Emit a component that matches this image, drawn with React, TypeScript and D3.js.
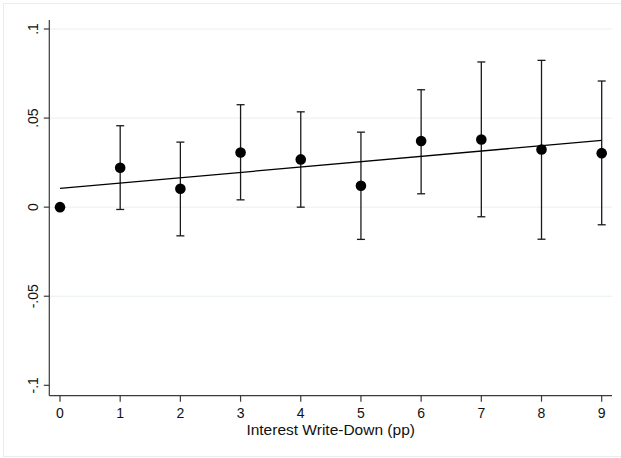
import React from "react";
import * as d3 from "d3";

const categories = [0, 1, 2, 3, 4, 5, 6, 7, 8, 9];
const estimates = [0, 0.0221, 0.0103, 0.0307, 0.0268, 0.012, 0.0371, 0.038, 0.0324, 0.0303];
const ciLower = [0, -0.0013, -0.0161, 0.0041, 0.0, -0.0181, 0.0075, -0.0054, -0.018, -0.0099];
const ciUpper = [0, 0.0457, 0.0365, 0.0575, 0.0535, 0.0421, 0.0659, 0.0815, 0.0824, 0.0708];
const fitLine = [
  { x: 0, y: 0.0105 },
  { x: 9, y: 0.0375 },
];
const yTicks = [-0.1, -0.05, 0, 0.05, 0.1];
const yTickLabels = ["-.1", "-.05", "0", ".05", ".1"];
const gridTicks = [-0.05, 0, 0.05, 0.1];
const xLabel = "Interest Write-Down (pp)";

export default function App() {
  const W = 621;
  const H = 458;
  const left = 49.3;
  const right = 612;
  const top = 20;
  const bottom = 395.7;

  const x = d3.scaleLinear().domain([0, 9]).range([60, 601.7]);
  const y = d3.scaleLinear().domain([-0.1, 0.1]).range([385.3, 29]);
  const line = d3
    .line<{ x: number; y: number }>()
    .x((d) => x(d.x))
    .y((d) => y(d.y));

  const font = "'Liberation Sans', Arial, Helvetica, sans-serif";
  const ink = "#1a1a1a";

  return (
    <svg
      width={W}
      height={H}
      style={{ position: "absolute", left: 0, top: 0, background: "#fff" }}
      fontFamily={font}
    >
      <rect x={0} y={0} width={W} height={H} fill="#fff" />
      <rect x={3.5} y={3.5} width={W + 4} height={453} fill="none" stroke="#e6eeef" strokeWidth={1.2} />
      {gridTicks.map((t) => (
        <line key={"g" + t} x1={left} x2={right} y1={y(t)} y2={y(t)} stroke="#e8eff1" strokeWidth={1} />
      ))}
      {/* axes */}
      <line x1={left} x2={left} y1={top} y2={bottom} stroke="#3a3a3a" strokeWidth={1.2} />
      <line x1={left} x2={right} y1={bottom} y2={bottom} stroke="#3a3a3a" strokeWidth={1.2} />
      {yTicks.map((t, i) => (
        <g key={"yt" + t}>
          <line x1={left - 5.5} x2={left} y1={y(t)} y2={y(t)} stroke="#3a3a3a" strokeWidth={1.2} />
          <text
            transform={`translate(37.5,${y(t)}) rotate(-90)`}
            textAnchor="middle"
            fontSize={14}
            fill="#111"
          >
            {yTickLabels[i]}
          </text>
        </g>
      ))}
      {categories.map((c) => (
        <g key={"xt" + c}>
          <line x1={x(c)} x2={x(c)} y1={bottom} y2={bottom + 6} stroke="#3a3a3a" strokeWidth={1.2} />
          <text x={x(c)} y={417.5} textAnchor="middle" fontSize={14} fill="#111">
            {c}
          </text>
        </g>
      ))}
      <text x={(left + right) / 2} y={435} textAnchor="middle" fontSize={15.5} fill="#111">
        {xLabel}
      </text>
      {/* error bars */}
      {categories.map((c, i) =>
        i === 0 ? null : (
          <g key={"eb" + c} stroke={ink} strokeWidth={1.3}>
            <line x1={x(c)} x2={x(c)} y1={y(ciLower[i])} y2={y(ciUpper[i])} />
            <line x1={x(c) - 4} x2={x(c) + 4} y1={y(ciLower[i])} y2={y(ciLower[i])} />
            <line x1={x(c) - 4} x2={x(c) + 4} y1={y(ciUpper[i])} y2={y(ciUpper[i])} />
          </g>
        )
      )}
      {/* fit line */}
      <path d={line(fitLine) || ""} fill="none" stroke="#000" strokeWidth={1.3} />
      {/* points */}
      {categories.map((c, i) => (
        <circle key={"p" + c} cx={x(c)} cy={y(estimates[i])} r={5.3} fill="#000" />
      ))}
    </svg>
  );
}
